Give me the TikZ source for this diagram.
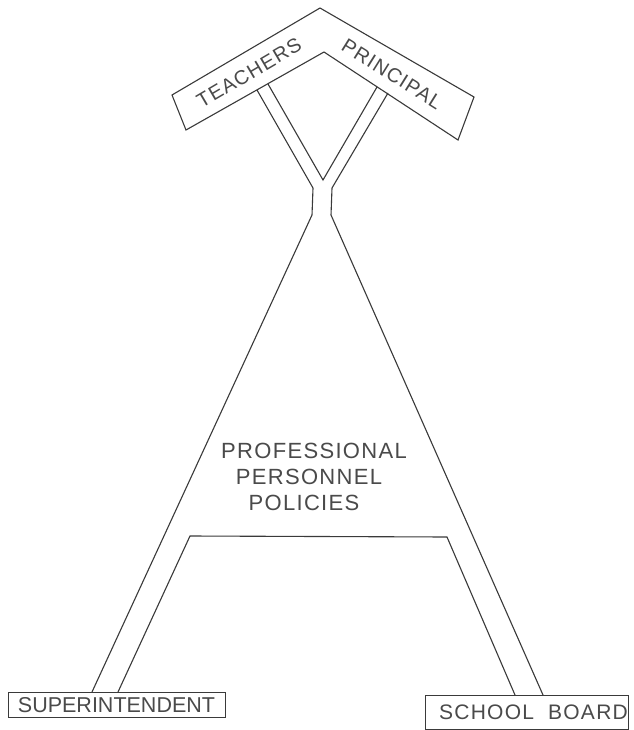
\documentclass[tikz,border=0pt]{standalone}
\usepackage{fontspec}
\newfontfamily\lett[LetterSpace=6]{Liberation Sans}
\definecolor{ink}{HTML}{3A3A3A}
\definecolor{txt}{HTML}{4A4A4A}
\begin{document}
\begin{tikzpicture}[x=1pt,y=-1pt,
  edge/.style={draw=ink,line width=1.1pt,line join=miter},
  lbl/.style={inner sep=0pt,text=txt,font=\lett\fontsize{20}{24}\selectfont},
  big/.style={inner sep=0pt,text=txt,font=\lett\fontsize{21}{25}\selectfont},
  center/.style={inner sep=0pt,text=txt,font=\lett\fontsize{22}{26}\selectfont}]
\useasboundingbox[fill=white] (0,0) rectangle (633,730);
% chevron corners
\coordinate (cTL) at (172,95);
\coordinate (cApex) at (320,8);
\coordinate (cTR) at (474,97);
\coordinate (cBR) at (458,140);
\coordinate (cIn) at (324,52);
\coordinate (cBL) at (186,130);
\draw[edge] (cTL) -- (cApex) -- (cTR) -- (cBR) -- (cIn) -- (cBL) -- cycle;
\node[lbl,rotate=30.5] (teachers) at (249,73) {TEACHERS};
\node[lbl,rotate=-32] (principal) at (392,74) {PRINCIPAL};
% Y arms and A outline
\coordinate (a1) at (257,90);
\coordinate (a2) at (268,84);
\coordinate (a3) at (377,87);
\coordinate (a4) at (388,93);
\coordinate (yL) at (313,188);
\coordinate (yM) at (323,180);
\coordinate (yR) at (332,188);
\coordinate (kL) at (312,215);
\coordinate (kR) at (331,215);
\coordinate (fLo) at (92,692);
\coordinate (fLi) at (118,692);
\coordinate (fRi) at (515,695);
\coordinate (fRo) at (543,695);
\coordinate (xL) at (190,536);
\coordinate (xR) at (447,537);
\draw[edge] (a1) -- (yL) -- (kL) -- (fLo);
\draw[edge] (a2) -- (yM) -- (a3);
\draw[edge] (a4) -- (yR) -- (kR) -- (fRo);
\draw[edge] (fLi) -- (xL) -- (xR) -- (fRi);
% center text
\node[center] (prof) at (314,451) {PROFESSIONAL};
\node[center] (pers) at (309,477) {PERSONNEL};
\node[center] (poli) at (304,503) {POLICIES};
% bottom boxes
\draw[edge,line width=0.9pt] (8,692) rectangle (225,717);
\node[big,font=\fontspec{Liberation Sans}\fontsize{21.5}{25}\selectfont] (super) at (116.5,705) {SUPERINTENDENT};
\draw[edge,line width=0.9pt] (425,695) rectangle (628,729);
\node[big] (board) at (533.5,712) {SCHOOL\hspace{14pt}BOARD};
\end{tikzpicture}
\end{document}
